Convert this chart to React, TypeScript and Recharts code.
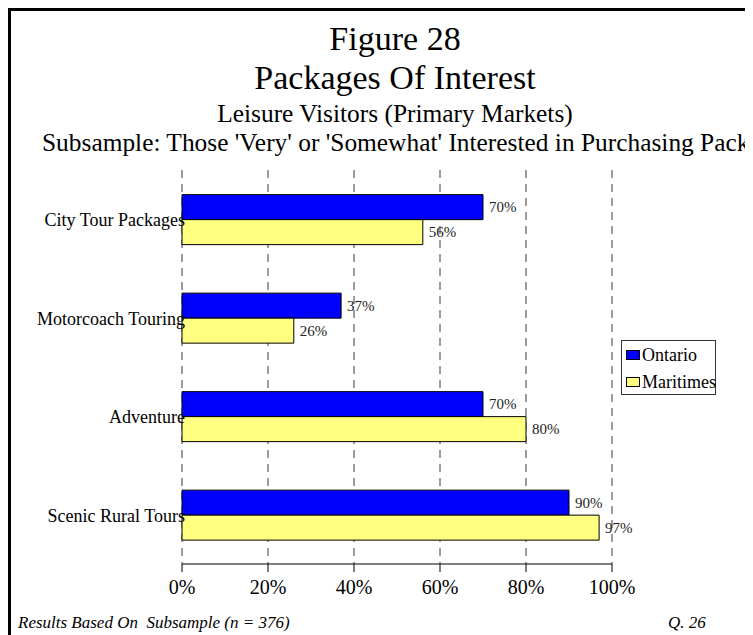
import { BarChart, Bar, XAxis, YAxis, CartesianGrid, LabelList } from "recharts"

const categories = ["City Tour Packages", "Motorcoach Touring", "Adventure", "Scenic Rural Tours"]
const ontario = [70, 37, 70, 90]
const maritimes = [56, 26, 80, 97]
const xTicks = [0, 20, 40, 60, 80, 100]

const series = [
  { key: "ontario", name: "Ontario", color: "#0000FF" },
  { key: "maritimes", name: "Maritimes", color: "#FFFF80" },
]

const data = categories.map((name, i) => ({
  name,
  ontario: ontario[i],
  maritimes: maritimes[i],
}))

const serif = "'Liberation Serif', 'Times New Roman', serif"

function pct(value: any) {
  return `${value}%`
}

function CategoryTick(props: any) {
  const { x, y, payload } = props
  return (
    <text x={x + 3} y={y + 7} textAnchor="end" fontSize={18} fontFamily={serif} fill="#000">
      {payload.value}
    </text>
  )
}

function Line({ top, size, text, left, align }: { top: number; size: number; text: string; left?: number; align?: string }) {
  return (
    <div
      style={{
        position: "absolute",
        top,
        left: left ?? 0,
        width: left === undefined ? 774 : undefined,
        textAlign: (align ?? "center") as any,
        fontSize: size,
        lineHeight: 1,
        whiteSpace: "nowrap",
        fontFamily: serif,
        color: "#000",
      }}
    >
      {text}
    </div>
  )
}

export default function App() {
  return (
    <div style={{ position: "relative", width: 745, height: 627, overflow: "hidden", background: "#fff" }}>
      <div
        style={{
          position: "absolute",
          left: 0,
          top: 0,
          width: 800,
          height: 700,
          border: "3px solid #000",
          boxSizing: "border-box",
        }}
      />
      <Line top={14} size={34} text="Figure 28" />
      <Line top={53} size={34} text="Packages Of Interest" />
      <Line top={93} size={25.4} text="Leisure Visitors (Primary Markets)" />
      <Line
        top={122}
        size={25.4}
        left={34}
        align="left"
        text="Subsample: Those 'Very' or 'Somewhat' Interested in Purchasing Packages"
      />

      <div style={{ position: "absolute", left: 0, top: 0 }}>
        <BarChart
          width={745}
          height={627}
          data={data}
          layout="vertical"
          margin={{ top: 162, right: 141, bottom: 31, left: 0 }}
          barCategoryGap="25%"
          barGap={0}
        >
          <CartesianGrid horizontal={false} stroke="#3a3a3a" strokeDasharray="8 6" />
          <XAxis
            type="number"
            domain={[0, 100]}
            ticks={xTicks}
            tickFormatter={pct}
            height={40}
            axisLine={{ stroke: "#000" }}
            tickLine={{ stroke: "#000" }}
            tickSize={8}
            tickMargin={8}
            tick={{ fill: "#000", fontSize: 20, fontFamily: serif }}
          />
          <YAxis
            type="category"
            dataKey="name"
            width={174}
            axisLine={false}
            tickLine={false}
            tickSize={0}
            tickMargin={0}
            tick={<CategoryTick />}
          />
          {series.map((s) => (
            <Bar key={s.key} dataKey={s.key} name={s.name} fill={s.color} stroke="#000" strokeWidth={1} isAnimationActive={false}>
              <LabelList
                dataKey={s.key}
                position="right"
                offset={6}
                formatter={pct}
                style={{ fontSize: 15, fontFamily: serif, fill: "#222" }}
              />
            </Bar>
          ))}
        </BarChart>
      </div>

      <div
        style={{
          position: "absolute",
          left: 613,
          top: 332,
          width: 95,
          height: 55,
          border: "1px solid #333",
          boxSizing: "border-box",
          background: "#fff",
        }}
      >
        {series.map((s, i) => (
          <div
            key={s.key}
            style={{
              position: "absolute",
              left: 4,
              top: 5 + i * 27,
              display: "flex",
              alignItems: "center",
              whiteSpace: "nowrap",
              fontFamily: serif,
              fontSize: 18,
              lineHeight: "18px",
            }}
          >
            <span
              style={{
                display: "inline-block",
                width: 14,
                height: 10,
                background: s.color,
                border: "1px solid #000",
                boxSizing: "border-box",
                marginRight: 2,
              }}
            />
            {s.name}
          </div>
        ))}
      </div>

      <div
        style={{
          position: "absolute",
          left: 10,
          top: 606,
          fontFamily: serif,
          fontStyle: "italic",
          fontSize: 17,
          lineHeight: 1,
          whiteSpace: "pre",
        }}
      >
        {"Results Based On  Subsample (n = 376)"}
      </div>
      <div
        style={{
          position: "absolute",
          left: 660,
          top: 606,
          fontFamily: serif,
          fontStyle: "italic",
          fontSize: 17,
          lineHeight: 1,
          whiteSpace: "pre",
        }}
      >
        Q. 26
      </div>
    </div>
  )
}
